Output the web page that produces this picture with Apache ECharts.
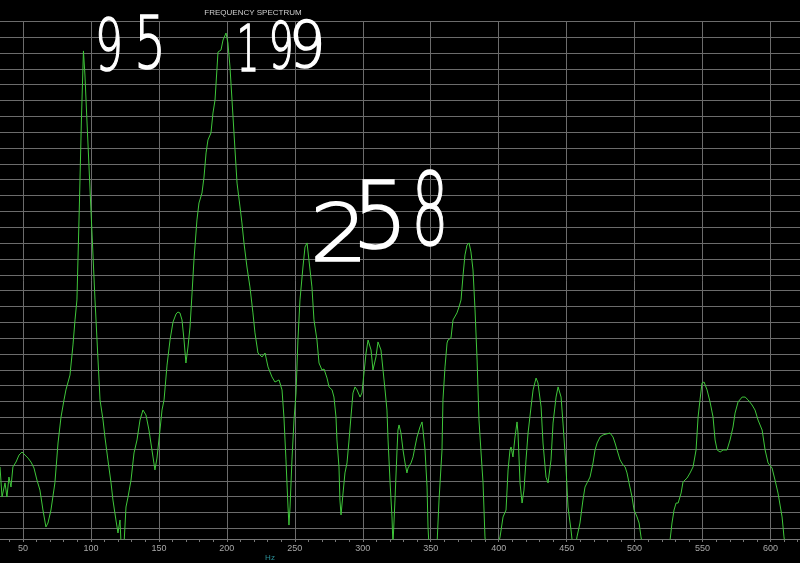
<!DOCTYPE html>
<html>
<head>
<meta charset="utf-8">
<script src="https://cdn.jsdelivr.net/npm/echarts@6/dist/echarts.min.js"></script>
<style>
html,body{margin:0;padding:0;background:#000;}
#chart{width:800px;height:563px;}
</style>
</head>
<body>
<div id="chart"></div>
<script>
// Frequency (Hz) of each trace point
const freqHz = [
  33.1, 34.6, 36.8, 38.2, 39.7, 41.2, 42.6, 44.9, 47.1, 49.3,
  51.5, 53.7, 55.9, 58.1, 60.3, 62.5, 64.7, 66.9, 68.4, 70.6,
  73.5, 75.8, 78.0, 80.2, 81.6, 84.6, 86.8, 88.3, 89.7, 91.6,
  93.0, 94.5, 95.6, 96.4, 99.7, 103.0, 106.7, 108.9, 110.3, 112.5,
  114.8, 116.2, 118.4, 119.9, 121.4, 122.1, 124.3, 125.8, 127.3, 129.5,
  131.7, 133.9, 136.1, 138.3, 140.5, 142.7, 144.9, 147.1, 148.6, 150.8,
  152.3, 153.8, 156.0, 158.2, 160.4, 162.6, 164.0, 165.5, 167.0, 168.5,
  169.9, 171.4, 172.9, 174.4, 175.8, 178.0, 179.5, 181.7, 183.2, 184.7,
  186.1, 188.3, 189.8, 191.3, 193.5, 195.7, 197.2, 199.4, 200.8, 202.3,
  203.8, 206.0, 207.5, 209.7, 211.1, 212.6, 214.8, 217.0, 219.2, 220.7,
  222.9, 225.9, 228.1, 230.3, 233.2, 235.4, 238.4, 240.6, 242.0, 243.5,
  245.0, 245.7, 246.5, 247.9, 249.4, 250.9, 252.3, 253.8, 256.0, 257.5,
  259.0, 260.4, 262.6, 264.1, 266.3, 267.8, 270.0, 271.5, 273.7, 275.2,
  277.4, 278.8, 280.3, 281.0, 282.5, 283.2, 284.0, 285.5, 286.9, 288.4,
  289.9, 291.3, 292.8, 294.3, 295.8, 298.0, 299.4, 300.9, 302.4, 303.9,
  306.1, 307.5, 309.7, 311.2, 313.4, 314.9, 316.4, 317.8, 318.6, 320.0,
  321.5, 322.2, 323.7, 325.2, 325.9, 326.7, 328.1, 329.6, 331.1, 332.5,
  333.3, 335.5, 337.0, 338.4, 339.9, 342.1, 343.6, 344.3, 345.8, 347.3,
  348.0, 348.7, 351.7, 354.6, 356.1, 358.3, 359.0, 360.5, 362.0, 362.7,
  364.9, 366.4, 369.3, 370.8, 372.3, 373.8, 375.2, 376.7, 378.2, 379.6,
  381.1, 382.6, 384.1, 385.5, 387.7, 388.5, 389.9, 391.4, 395.1, 399.5,
  401.0, 403.2, 405.4, 406.9, 408.3, 409.1, 410.5, 412.0, 413.5, 414.2,
  415.7, 417.2, 418.6, 420.1, 421.6, 423.8, 425.3, 427.5, 428.9, 431.2,
  432.6, 434.8, 436.3, 438.5, 440.0, 442.2, 443.7, 445.9, 447.3, 449.5,
  451.0, 453.2, 454.0, 455.4, 457.6, 459.8, 462.0, 463.5, 465.0, 467.2,
  469.4, 470.9, 472.4, 474.6, 476.8, 478.2, 481.9, 484.1, 485.6, 487.1,
  489.3, 491.5, 493.0, 494.4, 495.9, 498.1, 499.6, 501.8, 503.3, 504.7,
  506.2, 515.0, 524.6, 526.1, 527.5, 529.0, 530.5, 532.0, 534.2, 535.6,
  538.6, 540.8, 543.0, 545.2, 546.7, 548.1, 549.6, 551.1, 553.3, 555.5,
  557.7, 559.2, 560.7, 562.9, 565.1, 568.0, 570.2, 572.4, 573.9, 576.1,
  579.1, 581.3, 583.5, 586.4, 588.6, 590.8, 593.8, 596.0, 598.2, 601.1,
  603.3, 605.5, 608.5, 609.9, 612.2, 621.7
];
// Level of each point, in grid divisions above the baseline
const level = [
  4.55, 2.65, 3.54, 2.65, 3.91, 3.28, 4.55, 4.86, 5.30, 5.49,
  5.30, 5.11, 4.86, 4.48, 3.72, 3.09, 1.83, 0.76, 1.01, 1.83,
  3.54, 6.06, 7.70, 8.78, 9.41, 10.35, 12.25, 13.83, 15.09, 21.40,
  26.45, 30.81, 29.29, 27.71, 21.40, 15.09, 8.78, 7.51, 6.44, 4.99,
  3.54, 2.46, 1.20, 0.38, 1.20, -0.2, -0.4, 2.02, 2.65, 3.72,
  5.43, 6.25, 7.51, 8.14, 7.83, 6.88, 5.62, 4.36, 5.11, 6.88,
  8.14, 8.78, 10.98, 12.56, 13.70, 14.20, 14.33, 14.27, 13.83, 12.56,
  11.11, 12.12, 13.38, 15.53, 17.61, 20.14, 21.21, 21.84, 22.85, 24.37,
  25.19, 25.63, 26.89, 27.71, 30.74, 30.87, 31.50, 31.94, 31.31, 29.80,
  27.71, 24.56, 22.47, 20.96, 19.95, 18.69, 17.17, 15.91, 14.27, 13.01,
  11.74, 11.49, 11.74, 10.86, 10.23, 9.91, 10.04, 9.41, 7.70, 4.99,
  2.02, 0.88, 2.02, 4.99, 7.51, 9.22, 12.56, 15.09, 17.17, 18.43,
  18.69, 17.61, 15.91, 13.83, 12.56, 11.11, 10.67, 10.73, 10.16, 9.60,
  9.41, 8.96, 7.70, 6.25, 4.55, 2.46, 1.52, 2.90, 4.17, 4.80,
  6.25, 7.70, 9.22, 9.60, 9.41, 8.96, 9.22, 10.48, 11.74, 12.56,
  11.93, 10.67, 11.49, 12.44, 11.93, 10.67, 9.41, 8.14, 6.25, 3.72,
  1.39, -0.4, 2.46, 5.62, 6.88, 7.20, 6.69, 5.62, 4.80, 4.17,
  4.48, 4.80, 5.18, 5.81, 6.44, 7.07, 7.39, 6.88, 5.62, 3.28,
  0.76, -0.4, -2.0, -0.4, 2.46, 5.62, 8.78, 10.86, 12.37, 12.56,
  12.69, 13.83, 14.27, 14.65, 15.09, 16.67, 17.93, 18.56, 18.69, 18.12,
  16.98, 14.46, 11.30, 7.51, 4.55, 3.54, 0.13, -1.3, -2.0, -0.4,
  0.13, 1.39, 1.83, 4.36, 5.62, 5.81, 5.18, 6.44, 7.39, 6.69,
  3.54, 2.27, 3.09, 4.99, 6.69, 8.33, 9.41, 10.16, 9.85, 8.33,
  6.06, 3.91, 3.54, 4.99, 7.32, 8.96, 9.60, 8.96, 7.32, 4.55,
  2.02, 0.57, -0.06, -1.0, 0.13, 1.01, 2.46, 3.28, 3.54, 3.91,
  4.80, 5.62, 6.06, 6.44, 6.57, 6.69, 6.69, 6.44, 6.06, 5.62,
  4.99, 4.67, 4.55, 4.17, 3.54, 2.65, 1.83, 1.39, 1.01, 0.13,
  -0.6, -2.6, -0.6, -0.06, 1.01, 1.83, 2.27, 2.27, 2.90, 3.60,
  3.85, 4.17, 4.55, 5.62, 7.70, 8.78, 9.85, 9.91, 9.41, 8.65,
  7.70, 6.25, 5.62, 5.49, 5.62, 5.62, 6.25, 7.07, 7.95, 8.65,
  8.96, 8.96, 8.78, 8.46, 8.14, 7.51, 6.88, 5.62, 4.80, 4.48,
  3.72, 2.90, 1.39, 0.13, -1.3, -3.0
];
const titleText = 'FREQUENCY SPECTRUM';
const xAxisName = 'Hz';
const xTickStep = 50;
const annotations = ['95', '199', '258'];

const chart = echarts.init(document.getElementById('chart'), null, {renderer: 'canvas'});
const gridColor = '#6c6c6c';
const points = freqHz.map((f, i) => [f, level[i]]);

// handwritten-style annotation glyphs
const hand = [];
function glyph(ch, cx, cy, size, sx) {
  hand.push({
    type: 'text', x: cx, y: cy + size * 0.11, scaleX: sx, z: 100,
    style: {
      text: ch, fill: '#ffffff', stroke: '#ffffff', lineWidth: 1.6,
      font: '200 ' + size + 'px "DejaVu Sans", Inter, sans-serif',
      align: 'center', verticalAlign: 'middle'
    }
  });
}
const a95 = annotations[0], a199 = annotations[1], a258 = annotations[2];
glyph(a95[0], 109, 44, 71, 0.62);
glyph(a95[1], 150, 41, 73, 0.68);
glyph(a199[0], 248, 47, 64, 0.55);
glyph(a199[1], 281, 44, 64, 0.62);
glyph(a199[2], 307, 43, 64, 0.9);
glyph(a258[0], 339, 231, 80, 1.15);
glyph(a258[1], 380, 214, 93, 0.95);
glyph(a258[2], 430, 208, 100, 0.58);

const option = {
  backgroundColor: '#000000',
  animation: false,
  grid: [
    {left: -45, right: -38.5, top: 21.3, bottom: 34.7, containLabel: false, outerBoundsMode: 'none'},
    {left: -45, right: -38.5, top: 21.3, bottom: 24, containLabel: false, outerBoundsMode: 'none'}
  ],
  xAxis: [
    {type: 'value', gridIndex: 0, min: 0, max: 650, interval: xTickStep, show: false, splitLine: {show: false}},
    {
      type: 'value', gridIndex: 1, min: 0, max: 650, interval: xTickStep,
      axisLine: {show: true, lineStyle: {color: '#777777', width: 1}},
      axisTick: {show: true, length: 3, lineStyle: {color: '#777777'}},
      minorTick: {show: true, splitNumber: 5, length: 3, lineStyle: {color: '#777777'}},
      axisLabel: {color: '#a8a8a8', fontSize: 9, margin: 5, fontFamily: '"Liberation Sans", Arial, sans-serif'},
      splitLine: {show: true, lineStyle: {color: gridColor, width: 1}},
      minorSplitLine: {show: false}
    }
  ],
  yAxis: [
    {
      type: 'value', gridIndex: 0, min: 0, max: 32, interval: 1,
      axisLine: {show: false}, axisTick: {show: false}, axisLabel: {show: false},
      splitLine: {show: true, lineStyle: {color: gridColor, width: 1}}
    },
    {
      type: 'value', gridIndex: 1, min: 0, max: 32.68,
      axisLine: {show: false}, axisTick: {show: false}, axisLabel: {show: false},
      splitLine: {show: false}
    }
  ],
  series: [{
    type: 'line', xAxisIndex: 1, yAxisIndex: 1,
    data: points, showSymbol: false, symbol: 'none', clip: true,
    lineStyle: {color: '#3fc63a', width: 1},
    z: 10
  }],
  graphic: [
    {
      type: 'text', x: 253, y: 13, z: 50,
      style: {text: titleText, fill: '#cfcfcf', font: '8px "Liberation Sans", Arial, sans-serif', align: 'center', verticalAlign: 'middle'}
    },
    {
      type: 'text', x: 270, y: 558, z: 50,
      style: {text: xAxisName, fill: '#2b8e96', font: '8px "Liberation Sans", Arial, sans-serif', align: 'center', verticalAlign: 'middle'}
    }
  ].concat(hand)
};
chart.setOption(option);
</script>
</body>
</html>
